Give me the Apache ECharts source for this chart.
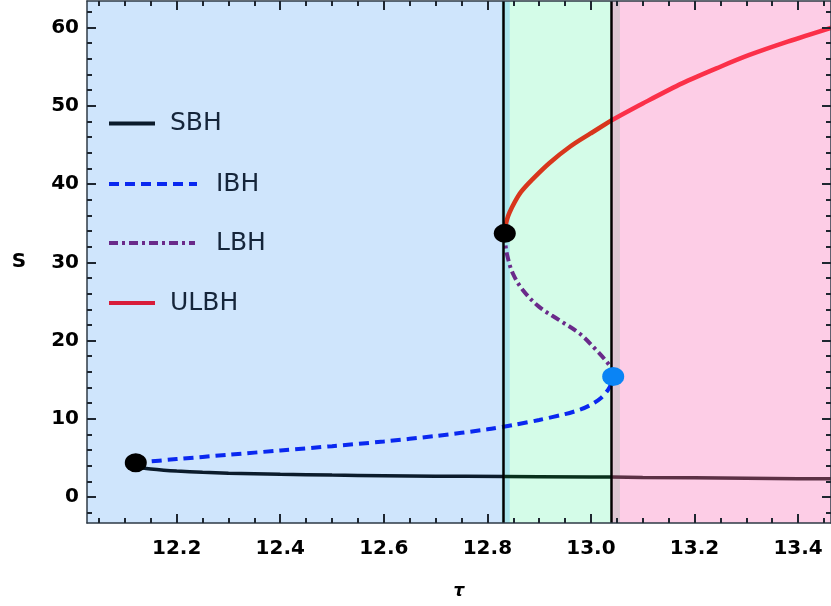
<!DOCTYPE html>
<html>
<head>
<meta charset="utf-8">
<script src="https://cdn.jsdelivr.net/npm/echarts@6/dist/echarts.min.js"></script>
<style>html,body{margin:0;padding:0;background:#fff;}#c{width:831px;height:606px;}</style>
</head>
<body>
<div id="c"></div>
<script>
// ---- data ----
const X_MIN = 12.0268, X_MAX = 13.4636;
const Y_MIN = -3.32, Y_MAX = 63.4;
const xMajor = [12.2, 12.4, 12.6, 12.8, 13.0, 13.2, 13.4];
const xMinor = [12.05, 12.1, 12.15, 12.25, 12.3, 12.35, 12.45, 12.5, 12.55, 12.65, 12.7, 12.75, 12.85, 12.9, 12.95, 13.05, 13.1, 13.15, 13.25, 13.3, 13.35, 13.45];
const yMajor = [0, 10, 20, 30, 40, 50, 60];
const yMinor = [-2, 2, 4, 6, 8, 12, 14, 16, 18, 22, 24, 26, 28, 32, 34, 36, 38, 42, 44, 46, 48, 52, 54, 56, 58, 62];
const regionBounds = [12.8336, 13.041];

const sbhBlue = [[12.121,4.38],[12.1225,4.05],[12.126,3.86],[12.135,3.71],[12.15,3.58],[12.175,3.43],[12.2,3.32],[12.25,3.16],[12.3,3.05],[12.4,2.9],[12.5,2.8],[12.6,2.73],[12.7,2.67],[12.8336,2.62]];
const sbhGreen = [[12.8336,2.62],[12.9,2.6],[13.0,2.56],[13.041,2.55]];
const sbhPink = [[13.041,2.55],[13.1,2.5],[13.2,2.45],[13.3,2.4],[13.4,2.35],[13.47,2.33]];
const ibh = [[12.121,4.38],[12.2,4.85],[12.3,5.4],[12.4,5.95],[12.5,6.5],[12.6,7.1],[12.7,7.8],[12.8,8.65],[12.85,9.2],[12.9,9.85],[12.95,10.6],[12.98,11.2],[13.0,11.8],[13.02,12.7],[13.033,13.7],[13.04,14.6],[13.043,15.4]];
const lbh = [[13.043,15.4],[13.042,16.0],[13.035,16.9],[13.01,18.8],[12.978,20.9],[12.939,22.6],[12.9,24.3],[12.868,26.5],[12.849,28.6],[12.839,30.7],[12.835,32.2],[12.8336,33.7]];
const ulbhGreen = [[12.8336,33.7],[12.835,34.6],[12.838,35.5],[12.843,36.4],[12.852,37.6],[12.865,39.0],[12.887,40.6],[12.92,42.7],[12.96,44.8],[13.0,46.5],[13.041,48.2]];
const ulbhPink = [[13.041,48.2],[13.1,50.3],[13.177,52.9],[13.25,55.0],[13.306,56.5],[13.38,58.2],[13.47,60.1]];
const foldPoints = [[12.121,4.38],[12.8336,33.7]];
const cuspPoints = [[13.043,15.4]];

// ---- chart ----
const chart = echarts.init(document.getElementById('c'), null, {renderer:'canvas'});
const FONT = 'DejaVu Sans';
const tickColor = '#1e2630';

function xAx(pos, major, labels) {
  return {
    type:'value', position:pos, min:X_MIN, max:X_MAX, z:5,
    splitLine:{show:false},
    axisLine:{show: major, onZero:false, lineStyle:{color:'#2e3a46', width:1.5}},
    axisTick:{show:true, inside:true, length: major?9:5, customValues: major?xMajor:xMinor, lineStyle:{color:tickColor, width:2}},
    axisLabel: labels ? {show:true, customValues:xMajor, formatter:v=>v.toFixed(1), margin:16, fontFamily:FONT, fontWeight:'bold', fontSize:20, color:'#000'} : {show:false},
    name: labels ? 'τ' : '', nameLocation:'middle', nameGap:60,
    nameTextStyle:{fontFamily:FONT, fontWeight:'bold', fontStyle:'italic', fontSize:17, color:'#000'}
  };
}
function yAx(pos, major, labels) {
  return {
    type:'value', position:pos, min:Y_MIN, max:Y_MAX, z:5,
    splitLine:{show:false},
    axisLine:{show: major, onZero:false, lineStyle:{color:'#2e3a46', width:1.5}},
    axisTick:{show:true, inside:true, length: major?9:5, customValues: major?yMajor:yMinor, lineStyle:{color:tickColor, width:2}},
    axisLabel: labels ? {show:true, customValues:yMajor, margin:8, fontFamily:FONT, fontWeight:'bold', fontSize:20, color:'#000'} : {show:false},
    name: labels ? 'S' : '', nameLocation:'middle', nameGap:68, nameRotate:0,
    nameTextStyle:{fontFamily:FONT, fontWeight:'bold', fontSize:20, color:'#000', align:'center', verticalAlign:'middle'}
  };
}

function legendFor(name, top, width, pad, ls) {
  return {
    data:[{name:name, lineStyle:ls, itemStyle:{opacity:0}}],
    orient:'vertical', left:107, top:top - 10, padding:0,
    itemWidth:width, itemHeight:20, selectedMode:false,
    textStyle:{fontFamily:FONT, fontSize:25, color:'#15253a', padding:[0,0,0,pad]}
  };
}

const line = (name, data, color, width, type, smooth) => ({
  name, type:'line', data, showSymbol:false, symbol:'none', z:3, smooth: smooth||false,
  lineStyle:{color, width, type: type||'solid'}, itemStyle:{color}, animation:false
});

chart.setOption({
  animation:false,
  grid:{left:87, right:-1, top:1, bottom:83},
  xAxis:[xAx('bottom',true,true), xAx('bottom',false,false), xAx('top',true,false), xAx('top',false,false)],
  yAxis:[yAx('left',true,true), yAx('left',false,false), yAx('right',true,false), yAx('right',false,false)],
  legend:[
    legendFor('SBH', 121, 46, 10, {color:'#0b1b2b', width:4, type:'solid'}),
    legendFor('IBH', 181.5, 88, 14, {color:'#0a28f0', width:4, type:[10,6]}),
    legendFor('LBH', 240.5, 86, 16, {color:'#6a2a8a', width:4, type:[9,4,3,4]}),
    legendFor('ULBH', 300.5, 46, 10, {color:'#d81c3a', width:4, type:'solid'})
  ],
  series:[
    {
      type:'line', data:[], z:0, silent:true,
      markArea:{silent:true, data:[
        [{xAxis:X_MIN, itemStyle:{color:'#cfe5fc'}}, {xAxis:regionBounds[0]}],
        [{xAxis:regionBounds[0], itemStyle:{color:'#d4fce8'}}, {xAxis:regionBounds[1]}],
        [{xAxis:regionBounds[1], itemStyle:{color:'#fdcde6'}}, {xAxis:X_MAX}],
        [{xAxis:12.8274, itemStyle:{color:'#a9e6ec'}}, {xAxis:12.8432}],
        [{xAxis:13.043, itemStyle:{color:'#dcc6d2'}}, {xAxis:13.056}]
      ]}
    },
    line('SBH', sbhBlue, '#0b1b2b', 3.5, false, 0.3),
    line('SBH', sbhGreen, '#08301c', 3.5),
    line('SBH', sbhPink, '#5c3045', 3.5),
    line('IBH', ibh, '#0a28f0', 4, [10,6], 0.3),
    line('LBH', lbh, '#6a2a8a', 4, [9,4,3,4], 0.35),
    line('ULBH', ulbhGreen, '#d8361c', 4.5, false, 0.35),
    line('ULBH', ulbhPink, '#fb3049', 4.5, false, 0.3),
    {
      type:'line', data:[], z:4, silent:true,
      markLine:{silent:true, symbol:'none', label:{show:false}, animation:false,
        lineStyle:{color:'#000', width:2.5, type:'solid'},
        data: regionBounds.map(v => ({xAxis:v}))}
    },
    {type:'scatter', data:foldPoints, symbol:'circle', symbolSize:[22,19], itemStyle:{color:'#000', opacity:1}, z:8, animation:false},
    {type:'scatter', data:cuspPoints, symbol:'circle', symbolSize:[22,19], itemStyle:{color:'#0a84f5', opacity:1}, z:8, animation:false}
  ]
});
</script>
</body>
</html>
